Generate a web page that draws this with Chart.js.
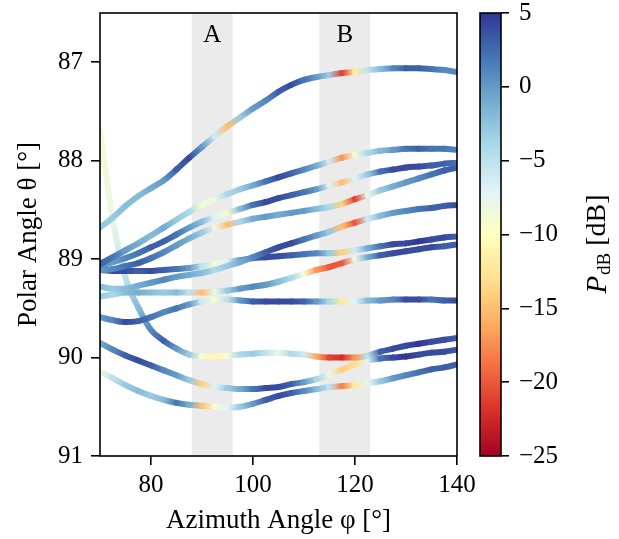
<!DOCTYPE html>
<html>
<head>
<meta charset="utf-8">
<script src="https://cdn.jsdelivr.net/npm/chart.js@4"></script>
<style>
  html, body { margin: 0; padding: 0; background: #fff; }
  #wrap { position: relative; width: 619px; height: 539px; }
  #main { position: absolute; left: 0; top: 0; }
  #cbar { position: absolute; left: 460px; top: 0; }
</style>
</head>
<body>
<div id="wrap">
  <canvas id="main" width="619" height="539"></canvas>
  <canvas id="cbar" width="159" height="539"></canvas>
</div>
<script>
// azimuth samples shared by every ray (degrees)
const azimuth = [70, 72.5, 75, 77.5, 80, 82.5, 85, 87.5, 90, 92.5, 95, 97.5, 100, 102.5, 105,
  107.5, 110, 112.5, 115, 117.5, 120, 122.5, 125, 127.5, 130, 132.5, 135, 137.5, 140];

// polar angle of each ray (degrees) and received power (dB)
const theta1 = [88.68, 88.58, 88.46, 88.36, 88.28, 88.20, 88.09, 87.97, 87.86, 87.75, 87.65, 87.56, 87.47, 87.39, 87.30, 87.23, 87.18, 87.15, 87.13, 87.11, 87.10, 87.08, 87.07, 87.06, 87.06, 87.06, 87.07, 87.08, 87.10];
const power1 = [-3, -3, -2, -2, -1, 0, 3, 4, 0, -6, -15, -3, 0, 1, 3, 4, 2, 0, -3, -21, -12, -5, -2, 1, 3, 3, 2, 1, 1];

const theta2 = [89.05, 88.98, 88.91, 88.84, 88.76, 88.68, 88.60, 88.52, 88.45, 88.39, 88.34, 88.29, 88.25, 88.21, 88.17, 88.13, 88.09, 88.05, 88.01, 87.97, 87.94, 87.92, 87.90, 87.89, 87.88, 87.88, 87.88, 87.88, 87.89];
const power2 = [3, 2, 0, -1, -2, -1, -3, -4, -9, -8, -4, -3, -1, 2, 4, 3, 1, -1, -6, -17, -9, -4, -2, 0, 2, 3, 2, 2, 1];

const theta3 = [89.07, 89.03, 88.99, 88.94, 88.88, 88.82, 88.75, 88.68, 88.62, 88.57, 88.53, 88.49, 88.45, 88.42, 88.38, 88.35, 88.32, 88.29, 88.25, 88.22, 88.18, 88.14, 88.11, 88.09, 88.07, 88.06, 88.05, 88.03, 88.02];
const power3 = [1, 0, 1, 2, 3, 3, 2, 0, -2, -7, -9, -2, 2, 4, 4, 3, 2, 0, -7, -15, -7, -3, 2, 4, 4, 4, 3, 3, 2];

const theta4 = [89.11, 89.10, 89.07, 89.04, 88.99, 88.93, 88.86, 88.79, 88.73, 88.68, 88.65, 88.62, 88.59, 88.57, 88.55, 88.53, 88.51, 88.49, 88.47, 88.44, 88.39, 88.35, 88.30, 88.26, 88.22, 88.18, 88.14, 88.10, 88.07];
const power4 = [0, 1, 2, 3, 2, 1, 0, -1, -3, -8, -15, -4, -1, 0, -1, 0, 0, -2, -4, -14, -21, -8, -3, -1, 0, 1, 2, 3, 3];

const theta5 = [89.28, 89.30, 89.30, 89.27, 89.24, 89.21, 89.18, 89.16, 89.14, 89.11, 89.07, 89.03, 88.98, 88.93, 88.88, 88.84, 88.80, 88.76, 88.72, 88.67, 88.63, 88.59, 88.56, 88.53, 88.51, 88.49, 88.48, 88.46, 88.45];
const power5 = [-2, -3, -2, -1, 0, 1, 0, -1, -2, -4, -3, -1, 1, 3, 4, 4, 2, 0, -3, -15, -20, -6, -2, 0, 1, 2, 3, 3, 4];

const theta6 = [89.11, 89.12, 89.12, 89.12, 89.12, 89.11, 89.10, 89.09, 89.07, 89.05, 89.03, 89.01, 88.99, 88.98, 88.97, 88.96, 88.95, 88.94, 88.94, 88.93, 88.91, 88.89, 88.87, 88.85, 88.84, 88.82, 88.80, 88.78, 88.77];
const power6 = [3, 4, 4, 3, 4, 3, 2, 0, -5, -9, -7, 0, 3, 4, 4, 3, 2, 1, -3, -14, -6, -1, 2, 4, 4, 5, 4, 4, 3];

const theta7 = [89.38, 89.36, 89.34, 89.34, 89.34, 89.34, 89.34, 89.34, 89.34, 89.33, 89.32, 89.30, 89.28, 89.26, 89.23, 89.19, 89.15, 89.11, 89.08, 89.04, 89.00, 88.98, 88.96, 88.94, 88.92, 88.90, 88.88, 88.87, 88.85];
const power7 = [-3, -4, -2, -1, -2, -3, -2, -5, -15, -8, -3, 0, 1, 0, -2, -4, -9, -17, -20, -20, -8, -1, 3, 4, 4, 4, 4, 3, 3];

const theta8 = [89.59, 89.62, 89.64, 89.63, 89.59, 89.54, 89.50, 89.46, 89.43, 89.41, 89.41, 89.42, 89.43, 89.43, 89.43, 89.43, 89.43, 89.43, 89.43, 89.43, 89.43, 89.42, 89.42, 89.41, 89.41, 89.41, 89.41, 89.42, 89.42];
const power8 = [0, 1, 4, 3, 2, 1, 2, 0, -6, -9, -5, 0, 3, 4, 4, 4, 3, 0, -4, -12, -7, -2, 0, 1, 4, 4, 2, 3, 4];

const theta9 = [87.69, 88.60, 89.19, 89.49, 89.72, 89.83, 89.91, 89.97, 89.99, 89.99, 89.98, 89.97, 89.96, 89.95, 89.95, 89.96, 89.97, 89.99, 90.00, 90.00, 90.00, 89.98, 89.94, 89.91, 89.88, 89.86, 89.84, 89.82, 89.80];
const power9 = [-9, -8, -5, -2, 1, 3, 0, -3, -9, -11, -9, -4, -3, -5, -8, -4, -6, -16, -21, -22, -17, -5, 3, 4, 4, 5, 4, 4, 3];

const theta10 = [89.85, 89.92, 89.98, 90.03, 90.08, 90.13, 90.18, 90.23, 90.27, 90.30, 90.31, 90.32, 90.32, 90.31, 90.30, 90.27, 90.25, 90.22, 90.17, 90.12, 90.07, 90.03, 90.01, 90.00, 89.99, 89.97, 89.95, 89.94, 89.92];
const power10 = [-1, 1, 3, 4, 3, 1, 0, -3, -14, -7, -3, -1, 2, 4, 4, 3, 0, -4, -8, -14, -13, -7, 2, 4, 5, 4, 4, 4, 3];

const theta11 = [90.14, 90.21, 90.28, 90.34, 90.39, 90.43, 90.46, 90.48, 90.49, 90.50, 90.51, 90.50, 90.47, 90.43, 90.39, 90.36, 90.34, 90.32, 90.30, 90.29, 90.28, 90.26, 90.24, 90.21, 90.18, 90.15, 90.12, 90.10, 90.07];
const power11 = [-9, -5, -3, -2, -3, -2, 2, -1, -15, -9, -7, -3, 0, 3, 4, 3, 1, -2, -5, -18, -12, -8, -3, 0, 1, 2, 3, 3, 3];

// shaded azimuth windows
const bandNames = ['A', 'B'];
const bandFrom = [88, 113];
const bandTo = [96, 123];

// ticks
const xTicks = [80, 100, 120, 140];
const yTicks = [87, 88, 89, 90, 91];
const cbTicks = [5, 0, -5, -10, -15, -20, -25];
const P_MIN = -25, P_MAX = 5;

const SERIF = "'Liberation Serif', 'DejaVu Serif', serif";
Chart.defaults.color = '#000';
Chart.defaults.font.family = SERIF;

// RdYlBu, low -> high
const RDYLBU = ['#a50026', '#d73027', '#f46d43', '#fdae61', '#fee090', '#ffffbf',
  '#e0f3f8', '#abd9e9', '#74add1', '#4575b4', '#313695'];
const rgbStops = RDYLBU.map(h => [1, 3, 5].map(i => parseInt(h.substr(i, 2), 16)));

function pColor(p) {
  let t = (p - P_MIN) / (P_MAX - P_MIN);
  t = Math.max(0, Math.min(1, t));
  const s = t * (rgbStops.length - 1);
  const i = Math.min(Math.floor(s), rgbStops.length - 2);
  const f = s - i;
  const c = rgbStops[i].map((v, k) => Math.round(v + (rgbStops[i + 1][k] - v) * f));
  return `rgb(${c[0]},${c[1]},${c[2]})`;
}

const fmt = v => (v < 0 ? '\u2212' + Math.abs(v) : String(v));

const thetas = [theta1, theta2, theta3, theta4, theta5, theta6, theta7, theta8, theta9, theta10, theta11];
const powers = [power1, power2, power3, power4, power5, power6, power7, power8, power9, power10, power11];

const datasets = thetas.map((th, k) => ({
    data: azimuth.map((a, i) => ({ x: a, y: th[i] })),
    showLine: true,
    pointRadius: 0,
    borderWidth: 6,
    borderCapStyle: 'round',
    borderJoinStyle: 'round',
    cubicInterpolationMode: 'monotone',
    clip: 0,
    segment: {
        // colour each piece of the ray by the power at its two ends
        borderColor: c => {
            const p = powers[c.datasetIndex];
            const g = c.chart.ctx.createLinearGradient(c.p0.x, c.p0.y, c.p1.x, c.p1.y);
            g.addColorStop(0, pColor(p[c.p0DataIndex]));
            g.addColorStop(1, pColor(p[c.p1DataIndex]));
            return g;
        }
    }
}));

const bandPlugin = {
    id: 'bands',
    beforeDatasetsDraw(chart) {
        const { ctx, chartArea: a, scales: { x } } = chart;
        ctx.save();
        ctx.fillStyle = '#ebebeb';
        bandFrom.forEach((f, i) => {
            const x0 = x.getPixelForValue(f), x1 = x.getPixelForValue(bandTo[i]);
            ctx.fillRect(x0, a.top, x1 - x0, a.bottom - a.top);
        });
        ctx.restore();
    },
    afterDatasetsDraw(chart) {
        const { ctx, chartArea: a, scales: { x } } = chart;
        ctx.save();
        ctx.fillStyle = '#000';
        ctx.font = '25px ' + SERIF;
        ctx.textAlign = 'center';
        ctx.textBaseline = 'middle';
        bandNames.forEach((n, i) => {
            const xc = x.getPixelForValue((bandFrom[i] + bandTo[i]) / 2);
            ctx.fillText(n, xc, a.top + 22);
        });
        // frame
        ctx.strokeStyle = '#000';
        ctx.lineWidth = 1.6;
        ctx.strokeRect(a.left, a.top, a.right - a.left, a.bottom - a.top);
        ctx.restore();
    }
};

new Chart(document.getElementById('main'), {
    type: 'scatter',
    data: { datasets: datasets },
    options: {
        responsive: false,
        animation: false,
        events: [],
        layout: { padding: { left: 0, top: 13, right: 162, bottom: 0 } },
        plugins: { legend: { display: false }, tooltip: { enabled: false } },
        scales: {
            x: {
                type: 'linear', min: 70, max: 140,
                afterBuildTicks: s => { s.ticks = xTicks.map(v => ({ value: v })); },
                ticks: { font: { size: 25 }, padding: 5, maxRotation: 0, autoSkip: false },
                grid: { drawOnChartArea: false, tickLength: 9, color: '#000', lineWidth: 1.6 },
                border: { display: false },
                title: { display: true, text: 'Azimuth Angle \u03c6 [\u00b0]', font: { size: 27 }, padding: { top: 0, bottom: 2 } },
                afterFit: s => { s.height = 83; s.paddingLeft = 0; s.paddingRight = 0; }
            },
            y: {
                type: 'linear', reverse: true, min: 86.5, max: 91,
                afterBuildTicks: s => { s.ticks = yTicks.map(v => ({ value: v })); },
                ticks: { font: { size: 25 }, padding: 8 },
                grid: { drawOnChartArea: false, tickLength: 9, color: '#000', lineWidth: 1.6 },
                border: { display: false },
                title: { display: true, text: 'Polar Angle \u03b8 [\u00b0]', font: { size: 27 }, padding: { top: 13, bottom: 0 } },
                afterFit: s => { s.width = 100; s.paddingTop = 0; s.paddingBottom = 0; }
            }
        }
    },
    plugins: [bandPlugin]
});

// colour bar: one floating bar from P_MIN to P_MAX filled with the colormap
const cbarPlugin = {
    id: 'cbarFrame',
    afterDraw(chart) {
        const { ctx, chartArea: a } = chart;
        ctx.save();
        ctx.strokeStyle = '#000';
        ctx.lineWidth = 1.6;
        ctx.strokeRect(a.left, a.top, a.right - a.left, a.bottom - a.top);
        // axis label  P_dB [dB]
        ctx.translate(138, 244);
        ctx.rotate(-Math.PI / 2);
        ctx.fillStyle = '#000';
        ctx.textBaseline = 'middle';
        const fBig = '28px ' + SERIF, fIt = 'italic 29px ' + SERIF, fSub = '19px ' + SERIF;
        ctx.font = fIt; const wP = ctx.measureText('P').width;
        ctx.font = fSub; const wS = ctx.measureText('dB').width;
        ctx.font = fBig; const wU = ctx.measureText(' [dB]').width;
        let x0 = -(wP + wS + wU + 1) / 2;
        ctx.font = fIt; ctx.fillText('P', x0, 0); x0 += wP + 1;
        ctx.font = fSub; ctx.fillText('dB', x0, 7); x0 += wS;
        ctx.font = fBig; ctx.fillText(' [dB]', x0, 0);
        ctx.restore();
    }
};

new Chart(document.getElementById('cbar'), {
    type: 'bar',
    data: {
        labels: [''],
        datasets: [{
            data: [[P_MIN, P_MAX]],
            borderWidth: 0,
            barPercentage: 1,
            categoryPercentage: 1,
            backgroundColor: c => {
                const a = c.chart.chartArea;
                if (!a) return '#888';
                const g = c.chart.ctx.createLinearGradient(0, a.bottom, 0, a.top);
                RDYLBU.forEach((col, i) => g.addColorStop(i / (RDYLBU.length - 1), col));
                return g;
            }
        }]
    },
    options: {
        responsive: false,
        animation: false,
        events: [],
        layout: { padding: { left: 20, top: 13, right: 0, bottom: 83 } },
        plugins: { legend: { display: false }, tooltip: { enabled: false } },
        scales: {
            x: { display: false },
            y: {
                position: 'right', min: P_MIN, max: P_MAX,
                afterBuildTicks: s => { s.ticks = cbTicks.map(v => ({ value: v })); },
                ticks: { font: { size: 25 }, padding: 10, callback: v => fmt(v) },
                grid: { drawOnChartArea: false, tickLength: 8, color: '#000', lineWidth: 1.6 },
                border: { display: false },
                afterFit: s => { s.width = 118; s.paddingTop = 0; s.paddingBottom = 0; }
            }
        }
    },
    plugins: [cbarPlugin]
});
</script>
</body>
</html>
